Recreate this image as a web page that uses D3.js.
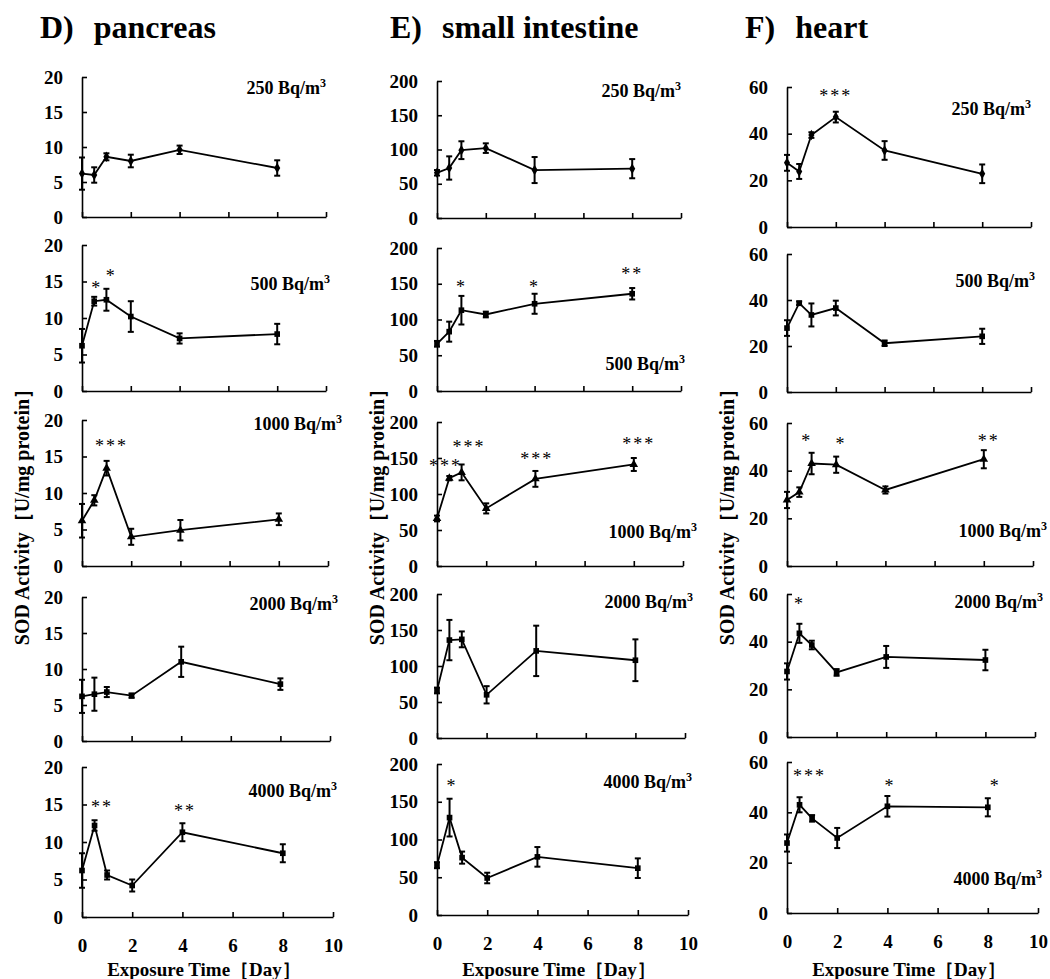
<!DOCTYPE html>
<html>
<head>
<meta charset="utf-8">
<script src="https://cdn.jsdelivr.net/npm/d3@7"></script>
<style>
  body { margin: 0; background: #fff; }
</style>
</head>
<body>
<svg id="chart" width="1050" height="979"></svg>
<script>
// exposure days (x) and radon doses (rows)
const days = [0, 0.5, 1, 2, 4, 8];
const doses = ["250", "500", "1000", "2000", "4000"];
const xTicks = [0, 2, 4, 6, 8, 10];

// D) pancreas
const pancreasMean = [
  [6.2, 6.0, 8.6, 8.0, 9.6, 7.0],
  [6.2, 12.3, 12.5, 10.2, 7.2, 7.8],
  [6.2, 9.0, 13.4, 4.0, 4.9, 6.4],
  [6.2, 6.5, 6.8, 6.3, 11.0, 7.9],
  [6.2, 12.2, 5.6, 4.2, 11.3, 8.5]
];
const pancreasErr = [
  [2.3, 1.1, 0.5, 0.9, 0.6, 1.1],
  [2.3, 0.6, 1.5, 2.1, 0.7, 1.4],
  [2.3, 0.7, 1.0, 1.1, 1.4, 0.8],
  [2.3, 2.3, 0.7, 0.3, 2.1, 0.8],
  [2.3, 0.7, 0.6, 0.8, 1.2, 1.2]
];
const pancreasStars = [
  [],
  [[0.6, 14.6, "*"], [1.2, 16.3, "*"]],
  [[1.2, 17, "***"]],
  [],
  [[0.8, 15.2, "**"], [4.1, 14.6, "**"]]
];
const pancreasLabelY = [17.6, 13.8, 18.6, 18.2, 16];

// E) small intestine
const intestineMean = [
  [66, 73, 99, 102, 70, 72],
  [66, 83, 113, 107, 122, 136],
  [66, 122, 130, 80, 121, 141],
  [66, 136, 137, 60, 121, 108],
  [66, 129, 76, 49, 77, 62]
];
const intestineErr = [
  [4, 17, 13, 7, 19, 14],
  [4, 14, 20, 4, 14, 8],
  [4, 3, 11, 7, 11, 9],
  [4, 28, 11, 12, 35, 29],
  [4, 25, 8, 7, 13, 13]
];
const intestineStars = [
  [],
  [[1, 151, "*"], [4, 151, "*"], [8, 169, "**"]],
  [[0.35, 144, "***"], [1.3, 171, "***"], [4.05, 154, "***"], [8.2, 175, "***"]],
  [],
  [[0.6, 176, "*"]]
];
const intestineLabelY = [177, 29, 39, 180, 168];

// F) heart
const heartMean = [
  [27.5, 23.8, 39.4, 47.1, 32.8, 22.8],
  [27.8, 38.6, 33.5, 36.5, 21.2, 24.2],
  [27.7, 31.0, 43.0, 42.5, 31.9, 44.8],
  [27.5, 43.5, 38.6, 27.1, 33.6, 32.3],
  [27.8, 43.0, 37.6, 29.8, 42.4, 42.0]
];
const heartErr = [
  [3.4, 3.2, 1.2, 2.3, 4.0, 4.0],
  [3.4, 0.8, 5.0, 3.2, 1.2, 3.3],
  [3.4, 2.0, 4.5, 3.4, 1.5, 3.8],
  [3.4, 4.0, 1.8, 1.4, 4.6, 4.3],
  [3.4, 3.0, 1.3, 4.0, 4.1, 3.6]
];
const heartStars = [
  [[2.0, 58, "***"]],
  [],
  [[0.8, 54, "*"], [2.2, 53, "*"], [8.2, 54, "**"]],
  [[0.5, 57.5, "*"]],
  [[0.9, 56, "***"], [4.1, 52, "*"], [8.3, 52, "*"]]
];
const heartLabelY = [48, 45.6, 12, 54, 11];

const organs = [
  { tag: "D)", name: "pancreas", yMax: 20, yStep: 5, mean: pancreasMean, err: pancreasErr, stars: pancreasStars, labelY: pancreasLabelY },
  { tag: "E)", name: "small intestine", yMax: 200, yStep: 50, mean: intestineMean, err: intestineErr, stars: intestineStars, labelY: intestineLabelY },
  { tag: "F)", name: "heart", yMax: 60, yStep: 20, mean: heartMean, err: heartErr, stars: heartStars, labelY: heartLabelY }
];

// layout (pixels) - the scanned figure is not perfectly regular
const colX0 = [82, 437, 787];
const rowW = [244, 244, 246, 248, 251];
const rowTop = [[77, 245, 420, 597, 767], [81, 248, 422, 594, 764], [87, 254, 423, 594, 762]];
const rowBottom = [[217, 391, 566, 741, 917], [218, 391, 566, 738, 915], [227, 392, 566, 737, 913]];
const labelDx = [0, 4, 14, 8, 4];
const markers = [d3.symbolDiamond, d3.symbolSquare, d3.symbolTriangle, d3.symbolSquare, d3.symbolSquare];
const SERIF = "'Liberation Serif', 'DejaVu Serif', serif";

const svg = d3.select("#chart");

organs.forEach((org, c) => {
  const x0 = colX0[c];

  // column title
  const title = svg.append("text")
    .attr("x", [40, 390, 745][c])
    .attr("y", 38)
    .style("font-size", "32px");
  title.append("tspan").text(org.tag);
  title.append("tspan").attr("dx", 20).text(org.name);

  // y axis title
  svg.append("text")
    .attr("transform", `translate(${x0 - 53},512) rotate(-90)`)
    .attr("text-anchor", "middle")
    .style("font-size", "20px")
    .text("SOD Activity［U/mg protein］");

  // x axis title
  svg.append("text")
    .attr("x", x0 + 122)
    .attr("y", 976)
    .attr("text-anchor", "middle")
    .style("font-size", "19px")
    .text("Exposure Time［Day］");

  doses.forEach((dose, r) => {
    const x = d3.scaleLinear().domain([0, 10]).range([x0, x0 + rowW[r]]);
    const y = d3.scaleLinear().domain([0, org.yMax]).range([rowBottom[c][r], rowTop[c][r]]);
    const g = svg.append("g");

    const xAxis = d3.axisBottom(x).tickValues(xTicks)
      .tickSizeInner(-5).tickSizeOuter(0).tickPadding(22)
      .tickFormat(r === doses.length - 1 ? d3.format("d") : () => "");
    const gx = g.append("g").attr("transform", `translate(0,${y(0)})`).call(xAxis);
    gx.selectAll("text").style("font-size", "19px");

    const yAxis = d3.axisLeft(y).tickValues(d3.range(0, org.yMax + 1, org.yStep))
      .tickSizeInner(-5).tickSizeOuter(0).tickPadding(19);
    const gy = g.append("g").attr("transform", `translate(${x0},0)`).call(yAxis);
    gy.selectAll("text").style("font-size", "19px");

    g.selectAll(".domain, .tick line").attr("stroke", "#000").attr("stroke-width", 1.6);

    const pts = days.map((d, i) => ({ d, m: org.mean[r][i], e: org.err[r][i] }));

    // error bars
    const eb = g.append("g").attr("stroke", "#000").attr("stroke-width", 2);
    eb.selectAll("line.v").data(pts).join("line")
      .attr("x1", p => x(p.d)).attr("x2", p => x(p.d))
      .attr("y1", p => y(p.m - p.e)).attr("y2", p => y(p.m + p.e));
    eb.selectAll("line.top").data(pts).join("line").attr("class", "top")
      .attr("x1", p => x(p.d) - 3).attr("x2", p => x(p.d) + 3)
      .attr("y1", p => y(p.m + p.e)).attr("y2", p => y(p.m + p.e));
    eb.selectAll("line.bot").data(pts).join("line").attr("class", "bot")
      .attr("x1", p => x(p.d) - 3).attr("x2", p => x(p.d) + 3)
      .attr("y1", p => y(p.m - p.e)).attr("y2", p => y(p.m - p.e));

    // mean line
    g.append("path").datum(pts)
      .attr("fill", "none").attr("stroke", "#000").attr("stroke-width", 1.8)
      .attr("d", d3.line().x(p => x(p.d)).y(p => y(p.m)));

    g.selectAll("path.mk").data(pts).join("path").attr("class", "mk")
      .attr("transform", p => `translate(${x(p.d)},${y(p.m)})`)
      .attr("d", d3.symbol().type(markers[r]).size(32));

    // significance stars
    g.selectAll("text.star").data(org.stars[r]).join("text").attr("class", "star")
      .attr("x", s => x(s[0])).attr("y", s => y(s[1]))
      .attr("dy", "0.55em")
      .attr("text-anchor", "middle")
      .style("font-size", "18px").style("letter-spacing", "2px")
      .text(s => s[2]);

    // dose label
    const lab = g.append("text")
      .attr("x", x(10) + labelDx[r])
      .attr("y", y(org.labelY[r]))
      .attr("text-anchor", "end")
      .style("font-size", "18px");
    lab.append("tspan").text(dose + " Bq/m");
    lab.append("tspan").attr("dy", -7).style("font-size", "12px").text("3");
  });
});

// every label in the serif face of the original figure
svg.selectAll("text")
  .style("font-family", SERIF)
  .style("font-weight", function () { return this.classList.contains("star") ? "normal" : "bold"; })
  .attr("fill", "#000");
</script>
</body>
</html>
